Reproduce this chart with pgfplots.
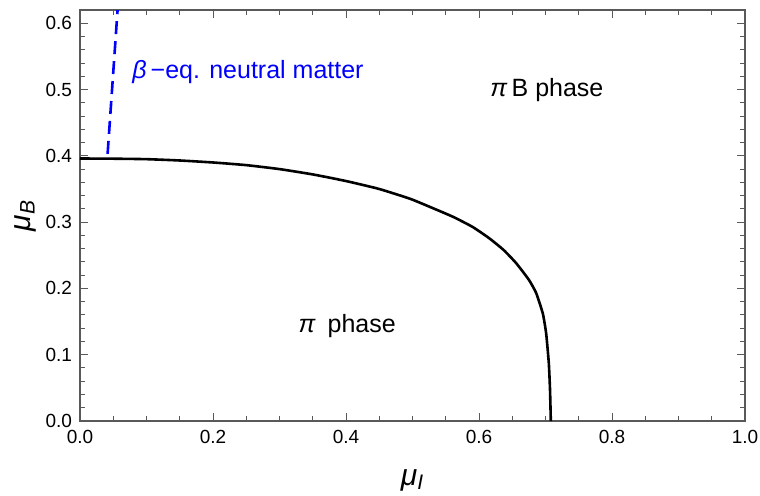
\documentclass[border=0pt]{standalone}
\usepackage{pgfplots}
\pgfplotsset{compat=1.18}
\usepackage{fontspec}
\setmainfont{Liberation Sans}
\definecolor{framegray}{gray}{0.35}
\begin{document}
\begin{tikzpicture}
\begin{axis}[
  at={(0,0)}, anchor=south west,
  scale only axis, width=332.5pt, height=205.5pt,
  xmin=0, xmax=1, ymin=0, ymax=0.62,
  xtick={0,0.2,...,1.0}, ytick={0,0.1,...,0.6},
  minor x tick num=3, minor y tick num=4,
  tick align=inside,
  major tick length=4pt, minor tick length=2.3pt,
  axis line style={framegray, line width=0.6pt},
  every tick/.style={framegray, line width=0.5pt},
  /pgf/number format/assume math mode=true,
  /pgf/number format/.cd, fixed, fixed zerofill, precision=1, /pgfplots/.cd,
  ticklabel style={font=\fontsize{9.5}{11}\selectfont, text=black},
  xticklabel style={yshift=-1pt},
  yticklabel style={xshift=-0.5pt},
  xlabel={\textit{μ}\textsubscript{\textit{I}}},
  ylabel={\textit{μ}\textsubscript{\textit{B}}},
  label style={font=\fontsize{15}{18}\selectfont},
  xlabel style={at={(axis description cs:0.5,0)}, anchor=center, yshift=-29.5pt},
  ylabel style={at={(axis description cs:0,0.5)}, anchor=center, yshift=27.5pt},
  clip=true,
]
\addplot[black, line width=1.3pt, smooth, tension=0.3] coordinates {
(0,0.396) (0.05,0.3957) (0.1,0.395) (0.15,0.393) (0.2,0.390) (0.25,0.386)
(0.3,0.380) (0.35,0.372) (0.4,0.362) (0.45,0.350) (0.497,0.335) (0.532,0.3205)
(0.561,0.308) (0.590,0.293) (0.615,0.276) (0.637,0.258) (0.656,0.238)
(0.675,0.213) (0.686,0.193) (0.696,0.162) (0.701,0.132) (0.705,0.087)
(0.7068,0.047) (0.708,0.0)
};
\addplot[color={rgb,255:red,0;green,0;blue,255}, line width=1.3pt, dash pattern=on 6.5pt off 3.5pt] coordinates {
(0.0415,0.403) (0.0565,0.62)
};
\node[anchor=base west, inner sep=0pt, text={rgb,255:red,0;green,0;blue,255}, font=\fontsize{12.5}{15}\selectfont] at (axis cs:0.078,0.517) {\textit{β}\,−eq. neutral matter};
\node[anchor=base west, inner sep=0pt, font=\fontsize{12.5}{15}\selectfont] at (axis cs:0.6165,0.489) {\textit{π}\,B phase};
\node[anchor=base west, inner sep=0pt, font=\fontsize{12.5}{15}\selectfont] at (axis cs:0.328,0.133) {\textit{π}\hspace{6pt}phase};
\end{axis}
\pgfresetboundingbox
\path (-40pt,-37pt) rectangle (340pt,210.5pt);
\end{tikzpicture}
\end{document}
